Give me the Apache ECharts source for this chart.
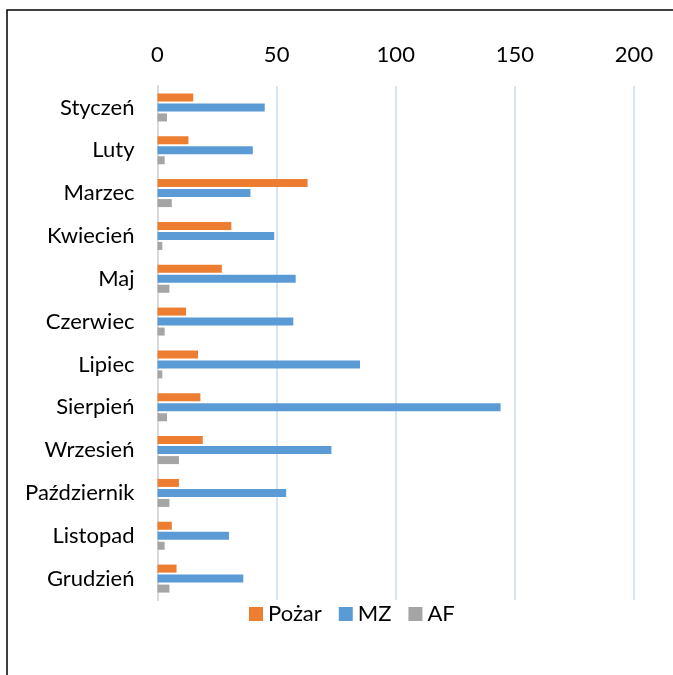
<!DOCTYPE html>
<html>
<head>
<meta charset="utf-8">
<script src="https://cdn.jsdelivr.net/npm/echarts@6/dist/echarts.min.js"></script>
<style>
html,body{margin:0;padding:0;background:#fff;}
#c{width:673px;height:675px;}
</style>
</head>
<body>
<div id="c"></div>
<script>
var categories = ['Styczeń','Luty','Marzec','Kwiecień','Maj','Czerwiec','Lipiec','Sierpień','Wrzesień','Październik','Listopad','Grudzień'];
var pozar = [15,13,63,31,27,12,17,18,19,9,6,8];
var mz = [45,40,39,49,58,57,85,144,73,54,30,36];
var af = [4,3,6,2,5,3,2,4,9,5,3,5];
var xTicks = [0,50,100,150,200];

var chart = echarts.init(document.getElementById('c'));
var font = 'Lato, "Open Sans", sans-serif';
chart.setOption({
  animation:false,
  textStyle:{fontFamily:font},
  graphic:[{type:'rect',shape:{x:7,y:10,width:700,height:700},style:{fill:'none',stroke:'#000',lineWidth:1.5},z:-1}],
  grid:{left:157.5,right:39,top:86,bottom:75},
  legend:{
    top:598,left:244,itemWidth:14,itemHeight:14,itemGap:17,icon:'rect',
    textStyle:{fontSize:22,color:'#000',fontFamily:font},
    data:['Pożar','MZ','AF']
  },
  xAxis:{
    type:'value',position:'top',min:xTicks[0],max:xTicks[xTicks.length-1],interval:50,
    axisLine:{show:false},axisTick:{show:false},
    axisLabel:{fontSize:22,color:'#000',margin:20,fontFamily:font},
    splitLine:{lineStyle:{color:'#c9dcf0',width:1.5}}
  },
  yAxis:{
    type:'category',data:categories,inverse:true,
    axisTick:{show:false},
    axisLine:{lineStyle:{color:'#d9d9d9',width:2}},
    axisLabel:{fontSize:22,color:'#000',margin:23,fontFamily:font}
  },
  series:[
    {name:'Pożar',type:'bar',data:pozar,itemStyle:{color:'#ED7D31'},barWidth:8,barGap:'25%',barCategoryGap:'35%'},
    {name:'MZ',type:'bar',data:mz,itemStyle:{color:'#5B9BD5'},barWidth:8,barGap:'25%'},
    {name:'AF',type:'bar',data:af,itemStyle:{color:'#A5A5A5'},barWidth:8,barGap:'25%'}
  ]
});
</script>
</body>
</html>
